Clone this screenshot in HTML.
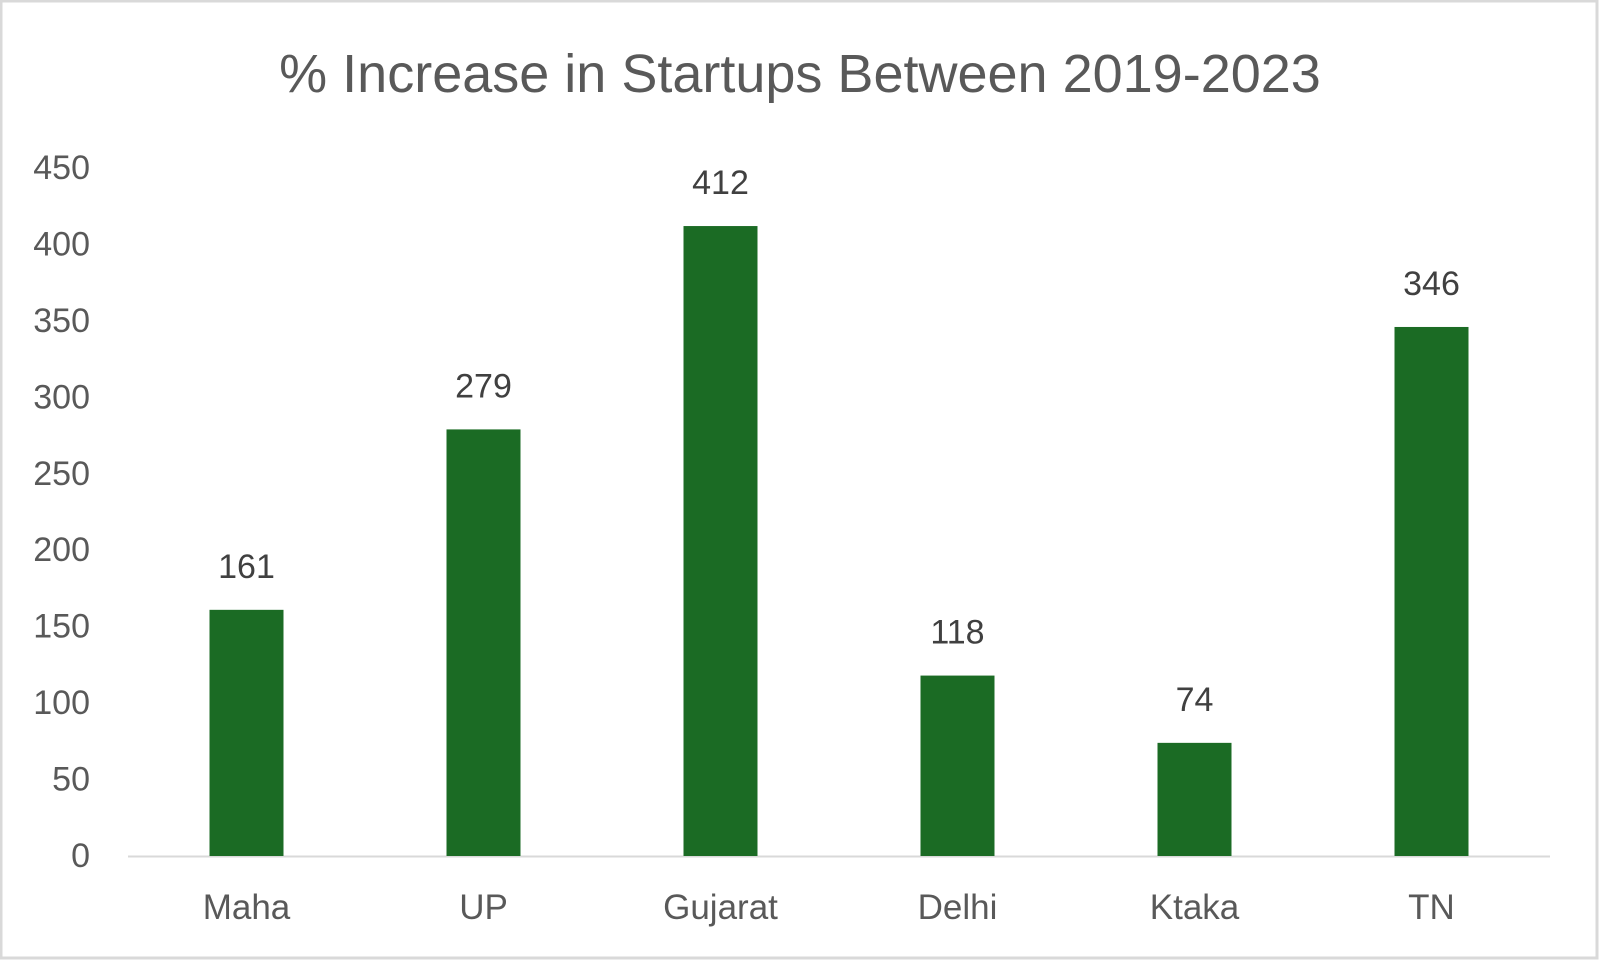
<!DOCTYPE html>
<html><head><meta charset="utf-8"><style>
html,body{margin:0;padding:0;background:#fff;}
svg text{font-family:"Liberation Sans",sans-serif;}
</style></head><body>
<svg width="1600" height="961" viewBox="0 0 1600 961">
<rect x="1" y="1" width="1596" height="957" fill="#fff" stroke="#d9d9d9" stroke-width="3"/>
<text x="800" y="92" text-anchor="middle" font-size="54" fill="#595959">% Increase in Startups Between 2019-2023</text>
<g id="yticks"></g>
<line x1="128" y1="856.5" x2="1550" y2="856.5" stroke="#d9d9d9" stroke-width="2"/>
<g id="bars"></g>
</svg>
<script>
const categories = ["Maha","UP","Gujarat","Delhi","Ktaka","TN"];
const values = [161,279,412,118,74,346];
const yTicks = [0,50,100,150,200,250,300,350,400,450];
const ns="http://www.w3.org/2000/svg";
const x0=128, step=237, y0=856, pxPer=1.529, bw=74;
function yPos(v){return y0 - v*pxPer;}
function xCenter(i){return x0 + step*(i+0.5);}
const yt=document.getElementById('yticks');
yTicks.forEach(t=>{
  const el=document.createElementNS(ns,'text');
  el.setAttribute('x',90);el.setAttribute('y',yPos(t)+11);
  el.setAttribute('text-anchor','end');el.setAttribute('font-size','34');el.setAttribute('fill','#595959');
  el.textContent=t;
  
  
  yt.appendChild(el);
});
const bg=document.getElementById('bars');
categories.forEach((c,i)=>{
  const cx=xCenter(i), v=values[i];
  const r=document.createElementNS(ns,'rect');
  r.setAttribute('x',cx-bw/2);r.setAttribute('y',yPos(v));
  r.setAttribute('width',bw);r.setAttribute('height',v*pxPer);r.setAttribute('fill','#1b6b24');
  
  
  bg.appendChild(r);
  const l=document.createElementNS(ns,'text');
  l.setAttribute('x',cx);l.setAttribute('y',yPos(v)-32);
  l.setAttribute('text-anchor','middle');l.setAttribute('font-size','34');l.setAttribute('fill','#404040');
  l.textContent=v;
  
  
  bg.appendChild(l);
  const cl=document.createElementNS(ns,'text');
  cl.setAttribute('x',cx);cl.setAttribute('y',919);
  cl.setAttribute('text-anchor','middle');cl.setAttribute('font-size','35');cl.setAttribute('fill','#595959');
  cl.textContent=c;
  
  
  bg.appendChild(cl);
});
</script>
</body></html>
